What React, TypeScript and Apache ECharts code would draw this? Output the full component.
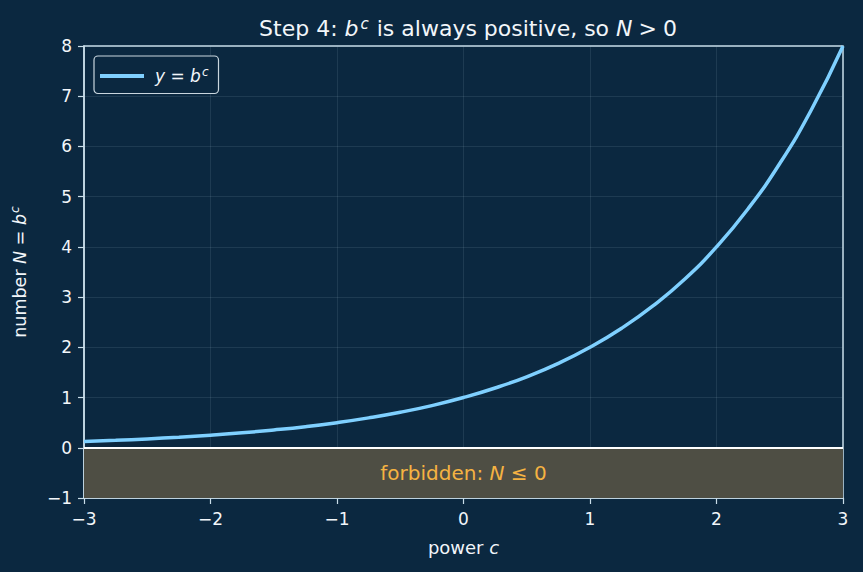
import React, { useEffect, useRef } from "react";
import * as echarts from "echarts";

const powers = [-3, -2.75, -2.5, -2.25, -2, -1.75, -1.5, -1.25, -1, -0.75, -0.5, -0.25, 0, 0.25, 0.5, 0.75, 1, 1.25, 1.5, 1.75, 2, 2.25, 2.5, 2.75, 3];
const numbers = [0.125, 0.149, 0.177, 0.21, 0.25, 0.297, 0.354, 0.42, 0.5, 0.595, 0.707, 0.84, 1, 1.19, 1.414, 1.68, 2, 2.38, 2.83, 3.36, 4, 4.76, 5.66, 6.73, 8];
const xTicks = [-3, -2, -1, 0, 1, 2, 3];
const yTicks = [-1, 0, 1, 2, 3, 4, 5, 6, 7, 8];
const forbiddenBand = [-1, 0];

const FONT = "DejaVu Sans";
const BG = "#0b2840";
const TXT = "#f2f6fa";
const AXIS = "#c9dde9";
const minus = (v: number) => (v < 0 ? "\u2212" + Math.abs(v) : String(v));

export default function App() {
  const ref = useRef<HTMLDivElement>(null);
  useEffect(() => {
    const chart = echarts.init(ref.current!, null, { renderer: "svg" });
    const gridLine = { show: true, lineStyle: { color: "rgba(160,190,210,0.13)", width: 1 } };
    chart.setOption({
      animation: false,
      backgroundColor: BG,
      textStyle: { fontFamily: FONT },
      title: {
        text: "Step 4: {i|b}{s|c} is always positive, so {i|N}{g|>}0",
        left: 463,
        textAlign: "center",
        top: 11,
        textStyle: {
          color: TXT,
          fontFamily: FONT,
          fontSize: 22,
          fontWeight: "normal",
          rich: {
            i: { fontStyle: "italic", fontSize: 22, color: TXT, fontFamily: FONT },
            s: { fontStyle: "italic", fontSize: 15, color: TXT, fontFamily: FONT, verticalAlign: "top", padding: [0, 1, 10, 2] },
            g: { fontSize: 22, color: TXT, fontFamily: FONT, padding: [0, 6, 0, 6] },
          },
        },
      },
      legend: {
        left: 94,
        top: 56,
        itemWidth: 44,
        itemHeight: 4,
        itemGap: 10,
        padding: [10, 10, 9, 6],
        borderColor: "#c9d6de",
        borderWidth: 1.2,
        borderRadius: 4,
        backgroundColor: BG,
        textStyle: {
          color: TXT,
          fontSize: 17,
          fontFamily: FONT,
          padding: [0, 0, 0, 6],
          rich: {
            i: { fontStyle: "italic", fontSize: 17, color: TXT, fontFamily: FONT },
            s: { fontStyle: "italic", fontSize: 12, color: TXT, fontFamily: FONT, verticalAlign: "top", padding: [0, 0, 8, 1] },
          },
        },
        formatter: () => "{i|y} = {i|b}{s|c}",
        data: [{ name: "curve", icon: "rect" }],
      },
      grid: {
        left: 84, right: 20, top: 46, bottom: 74,
        outerBoundsMode: "none",
        containLabel: false,
        show: true, borderColor: AXIS, borderWidth: 1.5, backgroundColor: "transparent",
      },
      xAxis: {
        type: "value",
        min: xTicks[0],
        max: xTicks[xTicks.length - 1],
        interval: 1,
        name: "power {i|c}",
        nameLocation: "middle",
        nameGap: 40,
        nameTextStyle: {
          color: TXT,
          fontSize: 18,
          fontFamily: FONT,
          rich: { i: { fontStyle: "italic", fontSize: 18, color: TXT, fontFamily: FONT } },
        },
        axisLine: { show: true, onZero: false, lineStyle: { color: AXIS, width: 1.5 } },
        axisTick: { show: true, length: 6, lineStyle: { color: AXIS, width: 1.2 } },
        axisLabel: { color: TXT, fontSize: 17, margin: 12, formatter: minus },
        splitLine: gridLine,
      },
      yAxis: {
        type: "value",
        min: yTicks[0],
        max: yTicks[yTicks.length - 1],
        interval: 1,
        name: "number {i|N} = {i|b}{s|c}",
        nameLocation: "middle",
        nameGap: 54,
        nameRotate: 90,
        nameTextStyle: {
          color: TXT,
          fontSize: 17.5,
          fontFamily: FONT,
          rich: {
            i: { fontStyle: "italic", fontSize: 17.5, color: TXT, fontFamily: FONT },
            s: { fontStyle: "italic", fontSize: 12, color: TXT, fontFamily: FONT, verticalAlign: "top", padding: [0, 0, 9, 1] },
          },
        },
        axisLine: { show: true, onZero: false, lineStyle: { color: AXIS, width: 1.5 } },
        axisTick: { show: true, length: 6, lineStyle: { color: AXIS, width: 1.2 } },
        axisLabel: { color: TXT, fontSize: 17, margin: 12, formatter: minus },
        splitLine: gridLine,
      },
      series: [
        {
          name: "band",
          type: "line",
          data: [],
          silent: true,
          markArea: {
            silent: true,
            itemStyle: { color: "#4e4e44", borderColor: "#4e4e44" },
            label: {
              show: true,
              position: "inside",
              formatter: "forbidden: {i|N} ≤ 0",
              color: "#f5b342",
              fontSize: 20,
              fontFamily: FONT,
              rich: { i: { fontStyle: "italic", fontSize: 20, color: "#f5b342", fontFamily: FONT } },
            },
            data: [[{ yAxis: forbiddenBand[0], xAxis: xTicks[0] }, { yAxis: forbiddenBand[1], xAxis: xTicks[xTicks.length - 1] }]],
          },
          markLine: {
            silent: true,
            symbol: "none",
            label: { show: false },
            lineStyle: { color: "#ffffff", width: 2, type: "solid" },
            data: [{ yAxis: forbiddenBand[1] }],
          },
        },
        {
          name: "curve",
          type: "line",
          data: powers.map((p, i) => [p, numbers[i]]),
          smooth: true,
          showSymbol: false,
          lineStyle: { color: "#7fd0ff", width: 3.5 },
          itemStyle: { color: "#7fd0ff" },
          z: 5,
        },
      ],
    });
    return () => chart.dispose();
  }, []);
  return <div ref={ref} style={{ width: 863, height: 572, position: "fixed", left: 0, top: 0 }} />;
}
